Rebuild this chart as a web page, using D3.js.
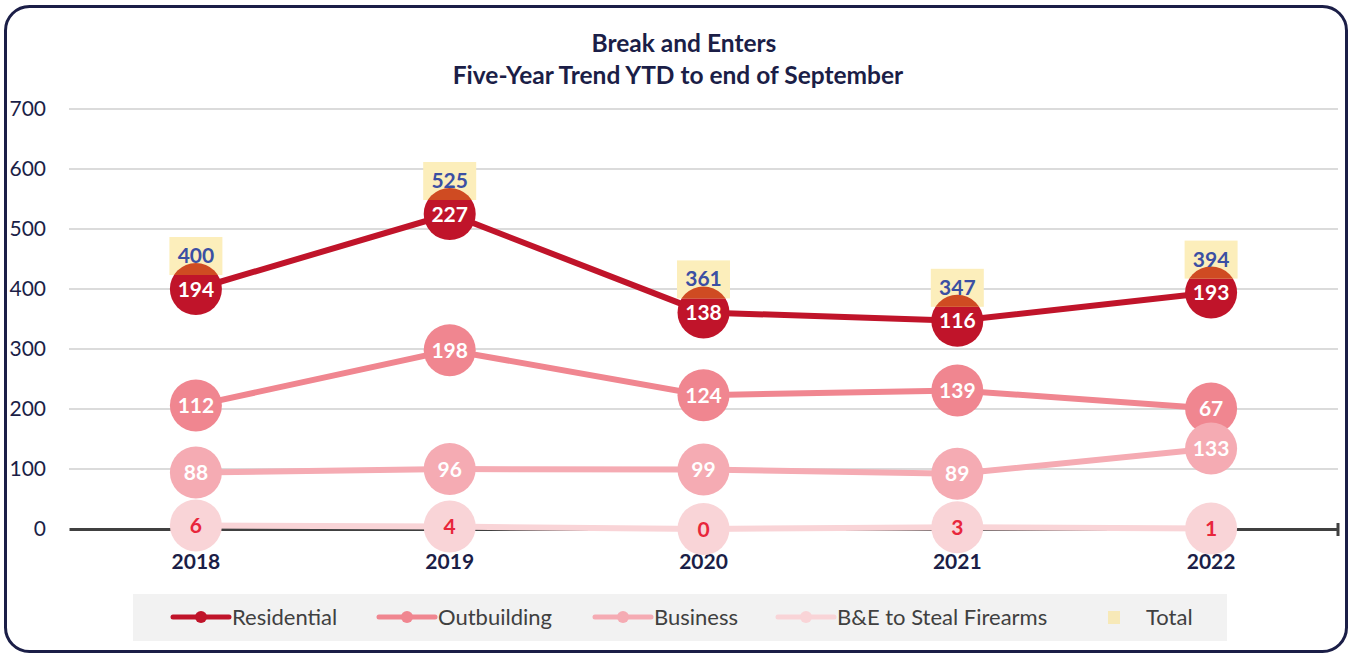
<!DOCTYPE html>
<html>
<head>
<meta charset="utf-8">
<script src="https://cdn.jsdelivr.net/npm/d3@7"></script>
<style>
  html, body { margin: 0; padding: 0; background: #ffffff; }
  svg { display: block; }
  text { font-family: Lato, "Open Sans", sans-serif; }
</style>
</head>
<body>
<svg id="chart" width="1352" height="654"></svg>
<script>
// Break and enters by type, year-to-date to end of September
const years = ["2018", "2019", "2020", "2021", "2022"];
const residential = [194, 227, 138, 116, 193];
const outbuilding = [112, 198, 124, 139, 67];
const business = [88, 96, 99, 89, 133];
const firearms = [6, 4, 0, 3, 1];
const totals = [400, 525, 361, 347, 394];
const yTicks = [0, 100, 200, 300, 400, 500, 600, 700];

const seriesNames = ["Residential", "Outbuilding", "Business", "B&E to Steal Firearms"];
const seriesValues = [residential, outbuilding, business, firearms];
const seriesColors = ["#C0142A", "#F08690", "#F5ABB3", "#F9D4D7"];
const labelColors = ["#ffffff", "#ffffff", "#ffffff", "#E8263B"];

const navy = "#1B1E47";
const svg = d3.select("#chart");

// Frame
svg.append("rect")
  .attr("x", 5.5).attr("y", 6.5).attr("width", 1341).attr("height", 645)
  .attr("rx", 24).attr("ry", 24)
  .attr("fill", "#ffffff").attr("stroke", navy).attr("stroke-width", 3);

// Title
const title = svg.append("text")
  .attr("text-anchor", "middle").attr("fill", navy)
  .attr("font-weight", "bold").attr("font-size", 24.5);
title.append("tspan").attr("x", 684).attr("y", 52).text("Break and Enters");
title.append("tspan").attr("x", 678).attr("y", 84).text("Five-Year Trend YTD to end of September");

// Scales
const x = d3.scaleBand().domain(years).range([69, 1338]);
const y = d3.scaleLinear().domain([0, 700]).range([529, 109]);
const cx = d => x(d) + x.bandwidth() / 2;

// Gridlines
svg.append("g").selectAll("line")
  .data(yTicks.filter(t => t > 0))
  .join("line")
  .attr("x1", 69).attr("x2", 1338)
  .attr("y1", d => y(d)).attr("y2", d => y(d))
  .attr("stroke", "#cfcfcf").attr("stroke-width", 1.4);

// Y axis labels
const yAxis = d3.axisLeft(y).tickValues(yTicks).tickSize(0).tickPadding(0);
const yG = svg.append("g").attr("transform", "translate(46,0)").call(yAxis);
yG.select(".domain").remove();
yG.selectAll("text")
  .attr("fill", navy).attr("font-size", 21)
  .attr("font-family", "Lato, 'Open Sans', sans-serif");

// X axis baseline with end tick
const xAxis = d3.axisBottom(x).tickSize(0).tickPadding(0);
const xG = svg.append("g").attr("transform", `translate(0,${y(0)})`).call(xAxis);
xG.select(".domain").attr("stroke", "#404040").attr("stroke-width", 3);
xG.selectAll("text")
  .attr("fill", navy).attr("font-size", 21).attr("font-weight", "bold")
  .attr("font-family", "Lato, 'Open Sans', sans-serif")
  .attr("dy", null).attr("y", 40);
svg.append("line")
  .attr("x1", 1338).attr("x2", 1338)
  .attr("y1", y(0) - 6).attr("y2", y(0) + 7)
  .attr("stroke", "#404040").attr("stroke-width", 3);

// Stack the categories: firearms at the bottom, residential on top
const rows = years.map((yr, i) => {
  const r = { year: yr };
  seriesNames.forEach((n, k) => { r[n] = seriesValues[k][i]; });
  return r;
});
const stack = d3.stack().keys(seriesNames.slice().reverse());
const stacked = stack(rows);
const layerOf = name => stacked.find(s => s.key === name);

const line = d3.line()
  .x((d, i) => cx(years[i]))
  .y(d => y(d[1]));

const R = 26;

// Draw series in legend order so later series sit on top
seriesNames.forEach((name, k) => {
  const layer = layerOf(name);
  const g = svg.append("g");
  g.append("path")
    .datum(layer)
    .attr("d", line)
    .attr("fill", "none")
    .attr("stroke", seriesColors[k])
    .attr("stroke-width", 6);
  g.selectAll("circle")
    .data(layer)
    .join("circle")
    .attr("cx", (d, i) => cx(years[i]))
    .attr("cy", d => y(d[1]))
    .attr("r", R)
    .attr("fill", seriesColors[k]);
});

// Value labels inside markers
seriesNames.forEach((name, k) => {
  const layer = layerOf(name);
  svg.append("g").selectAll("text")
    .data(layer)
    .join("text")
    .attr("x", (d, i) => cx(years[i]))
    .attr("y", d => y(d[1]) + 7.5)
    .attr("text-anchor", "middle")
    .attr("font-weight", "bold").attr("font-size", 21)
    .attr("fill", labelColors[k])
    .text((d, i) => seriesValues[k][i]);
});

// Total labels above the top line
const boxW = 53, boxH = 38;
const totalG = svg.append("g");
const defs = svg.append("defs");
years.forEach((yr, i) => {
  const px = cx(yr), py = y(totals[i]);
  const bx = px - boxW / 2, by = py - 14 - boxH;
  totalG.append("rect")
    .attr("x", bx).attr("y", by).attr("width", boxW).attr("height", boxH)
    .attr("fill", "#FCEEBB");
  // where the label box covers the marker the colours mix to orange
  const cid = "mk" + i;
  defs.append("clipPath").attr("id", cid)
    .append("circle").attr("cx", px).attr("cy", py).attr("r", R);
  totalG.append("rect")
    .attr("x", bx).attr("y", by).attr("width", boxW).attr("height", boxH)
    .attr("fill", "#CF4B22")
    .attr("clip-path", `url(#${cid})`);
  totalG.append("text")
    .attr("x", px).attr("y", by + 26)
    .attr("text-anchor", "middle")
    .attr("font-weight", "bold").attr("font-size", 21)
    .attr("fill", "#3B4FA3")
    .text(totals[i]);
});

// Legend
const legend = svg.append("g");
legend.append("rect")
  .attr("x", 133).attr("y", 594).attr("width", 1094).attr("height", 47)
  .attr("fill", "#F2F2F2");
const legendX = [173, 379, 595, 778];
seriesNames.forEach((name, k) => {
  const lx = legendX[k];
  legend.append("line")
    .attr("x1", lx).attr("x2", lx + 56)
    .attr("y1", 617).attr("y2", 617)
    .attr("stroke", seriesColors[k]).attr("stroke-width", 5)
    .attr("stroke-linecap", "round");
  legend.append("circle")
    .attr("cx", lx + 28).attr("cy", 617).attr("r", 6)
    .attr("fill", seriesColors[k]);
  legend.append("text")
    .attr("x", lx + 59).attr("y", 624.5)
    .attr("font-size", 22).attr("fill", "#404040")
    .text(name);
});
legend.append("rect")
  .attr("x", 1108).attr("y", 611).attr("width", 12).attr("height", 13)
  .attr("fill", "#F7E9B8");
legend.append("text")
  .attr("x", 1146).attr("y", 624.5)
  .attr("font-size", 22).attr("fill", "#404040")
  .text("Total");
</script>
</body>
</html>
